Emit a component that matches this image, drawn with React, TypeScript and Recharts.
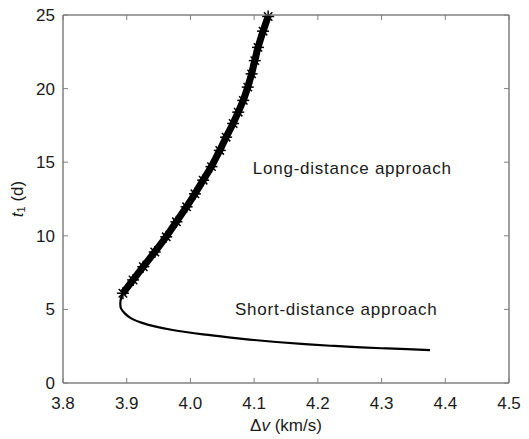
import { ComposedChart, Scatter, XAxis, YAxis, ReferenceDot, ReferenceArea, Label } from 'recharts';

// long-distance branch (drawn with star markers)
const upperDv = [3.894, 3.91, 3.926, 3.944, 3.962, 3.978, 3.994, 4.007, 4.02, 4.033, 4.046, 4.056, 4.067, 4.075, 4.083, 4.09, 4.096, 4.101, 4.106, 4.114, 4.122];
const upperT = [6.1, 7.0, 7.9, 8.9, 9.93, 10.95, 11.97, 12.85, 13.78, 14.7, 15.8, 16.7, 17.63, 18.4, 19.2, 20.1, 21.0, 21.9, 22.8, 23.9, 24.9];

// short-distance branch (thin line)
const lowerDv = [3.894, 3.891, 3.89, 3.891, 3.897, 3.907, 3.923, 3.944, 3.97, 3.99, 4.02, 4.06, 4.1, 4.14, 4.18, 4.22, 4.26, 4.3, 4.34, 4.376];
const lowerT = [6.1, 5.75, 5.41, 5.07, 4.73, 4.39, 4.1, 3.85, 3.62, 3.48, 3.3, 3.1, 2.92, 2.77, 2.64, 2.53, 2.44, 2.36, 2.3, 2.24];

const xTicks = [3.8, 3.9, 4.0, 4.1, 4.2, 4.3, 4.4, 4.5];
const yTicks = [0, 5, 10, 15, 20, 25];

const X_MIN = xTicks[0];
const X_MAX = xTicks[xTicks.length - 1];
const Y_MIN = yTicks[0];
const Y_MAX = yTicks[yTicks.length - 1];

const upper = upperDv.map((dv, i) => ({ dv, t: upperT[i] }));
const lower = lowerDv.map((dv, i) => ({ dv, t: lowerT[i] }));

// layout
const W = 529;
const H = 439;
const M = { top: 15, right: 20, bottom: 0, left: 0 };
const Y_AXIS_W = 63;
const X_AXIS_H = 56;
const PLOT_W = W - M.left - M.right - Y_AXIS_W;
const PLOT_H = H - M.top - M.bottom - X_AXIS_H;

const FONT = '"Liberation Sans", Arial, sans-serif';
const AXIS = '#808080';
const TEXT = '#1a1a1a';

const Star = (props: any) => {
  const { cx, cy } = props;
  const s = 6;
  const d = 4.2;
  return (
    <g stroke="#000" strokeWidth={1.5}>
      <line x1={cx - s} y1={cy} x2={cx + s} y2={cy} />
      <line x1={cx} y1={cy - s} x2={cx} y2={cy + s} />
      <line x1={cx - d} y1={cy - d} x2={cx + d} y2={cy + d} />
      <line x1={cx - d} y1={cy + d} x2={cx + d} y2={cy - d} />
    </g>
  );
};

const NoDot = () => <g />;

const BottomTick = ({ x, y, payload }: any) => (
  <g>
    <line x1={x} y1={y} x2={x} y2={y - 5} stroke={AXIS} />
    <text x={x} y={y + 26} textAnchor="middle" fontSize={17} fill={TEXT} fontFamily={FONT}>
      {payload.value.toFixed(1)}
    </text>
  </g>
);

const LeftTick = ({ x, y, payload }: any) => (
  <g>
    <line x1={x} y1={y} x2={x + 5} y2={y} stroke={AXIS} />
    <text x={x - 8} y={y + 6} textAnchor="end" fontSize={17} fill={TEXT} fontFamily={FONT}>
      {payload.value}
    </text>
  </g>
);

// labels drawn at reference points: box corner, top ticks, right ticks
const cornerFrame = (props: any) => {
  const { x, y } = props.viewBox;
  return (
    <g>
      <line x1={x - PLOT_W} y1={y} x2={x} y2={y} stroke={AXIS} strokeWidth={1} />
      <line x1={x} y1={y} x2={x} y2={y + PLOT_H} stroke={AXIS} strokeWidth={1} />
    </g>
  );
};
const topTick = (props: any) => {
  const { x, y } = props.viewBox;
  return <line x1={x} y1={y} x2={x} y2={y + 5} stroke={AXIS} />;
};
const rightTick = (props: any) => {
  const { x, y } = props.viewBox;
  return <line x1={x} y1={y} x2={x - 5} y2={y} stroke={AXIS} />;
};

const textAt = (value: string) => (props: any) => {
  const { viewBox } = props;
  return (
    <text x={viewBox.x} y={viewBox.y} fontSize={17} letterSpacing={0.75} fill={TEXT} fontFamily={FONT}>
      {value}
    </text>
  );
};

export default function App() {
  return (
    <div style={{ position: 'absolute', top: 0, left: 0, background: '#fff' }}>
      <ComposedChart width={W} height={H} margin={M}>
        <XAxis
          dataKey="dv"
          type="number"
          domain={[X_MIN, X_MAX]}
          ticks={xTicks}
          height={X_AXIS_H}
          stroke={AXIS}
          tickLine={false}
          tickSize={0}
          tickMargin={0}
          tick={<BottomTick />}
          interval={0}
        >
          <Label
            content={(p: any) => {
              const vb = p.viewBox;
              return (
                <text x={vb.x + vb.width / 2} y={431} textAnchor="middle" fontSize={17} fill={TEXT} fontFamily={FONT}>
                  Δ<tspan fontStyle="italic">v</tspan> (km/s)
                </text>
              );
            }}
          />
        </XAxis>
        <YAxis
          dataKey="t"
          type="number"
          domain={[Y_MIN, Y_MAX]}
          ticks={yTicks}
          width={Y_AXIS_W}
          stroke={AXIS}
          tickLine={false}
          tickSize={0}
          tickMargin={0}
          tick={<LeftTick />}
          interval={0}
        >
          <Label
            content={(p: any) => {
              const vb = p.viewBox;
              const cy = vb.y + vb.height / 2;
              return (
                <text
                  x={17}
                  y={cy}
                  transform={`rotate(-90 17 ${cy})`}
                  textAnchor="middle"
                  dominantBaseline="central"
                  fontSize={17}
                  fill={TEXT}
                  fontFamily={FONT}
                >
                  <tspan fontStyle="italic">t</tspan>
                  <tspan fontSize={11} dy={4}>1</tspan>
                  <tspan dy={-4}> (d)</tspan>
                </text>
              );
            }}
          />
        </YAxis>
        <ReferenceArea x1={X_MIN} x2={X_MAX} y1={Y_MIN} y2={Y_MAX} fill="none" fillOpacity={0} stroke={AXIS} strokeOpacity={1} ifOverflow="visible" />
        <Scatter
          data={lower}
          line={{ stroke: '#000', strokeWidth: 2.2 }}
          lineJointType="natural"
          shape={<NoDot />}
          isAnimationActive={false}
        />
        <Scatter
          data={upper}
          line={{ stroke: '#000', strokeWidth: 7 }}
          lineJointType="linear"
          shape={<Star />}
          isAnimationActive={false}
        />
        <ReferenceDot x={X_MAX} y={Y_MAX} r={0} stroke="none" ifOverflow="visible" label={cornerFrame} />
        {xTicks.map((v) => (
          <ReferenceDot key={`tt${v}`} x={v} y={Y_MAX} r={0} stroke="none" ifOverflow="visible" label={topTick} />
        ))}
        {yTicks.map((v) => (
          <ReferenceDot key={`rt${v}`} x={X_MAX} y={v} r={0} stroke="none" ifOverflow="visible" label={rightTick} />
        ))}
        <ReferenceDot x={4.098} y={14.2} r={0} stroke="none" label={textAt('Long-distance approach')} />
        <ReferenceDot x={4.07} y={4.62} r={0} stroke="none" label={textAt('Short-distance approach')} />
      </ComposedChart>
    </div>
  );
}
